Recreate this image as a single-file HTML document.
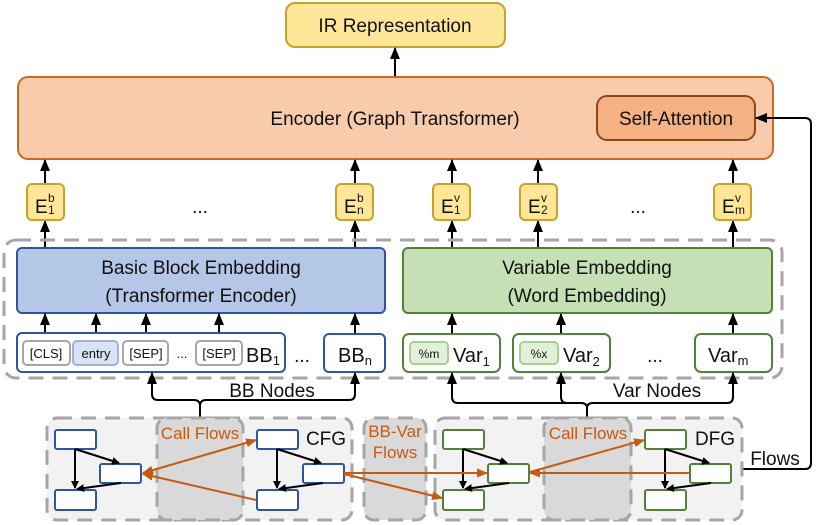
<!DOCTYPE html>
<html><head><meta charset="utf-8"><style>
body{margin:0;background:#fff}
svg{display:block;font-family:"Liberation Sans",sans-serif}
text{fill:#111}
</style></head><body>
<svg width="830" height="525" viewBox="0 0 830 525" xmlns="http://www.w3.org/2000/svg">
<defs>
<marker id="a" markerWidth="8" markerHeight="8" refX="7" refY="4" orient="auto" markerUnits="userSpaceOnUse" viewBox="0 0 8 8"><path d="M0,0 L8,4 L0,8 z" fill="#000"/></marker>
<marker id="ab" markerWidth="12" markerHeight="12" refX="11" refY="6" orient="auto" markerUnits="userSpaceOnUse" viewBox="0 0 12 12"><path d="M0,1 L12,6 L0,11 z" fill="#000"/></marker>
<marker id="o" markerWidth="11" markerHeight="11" refX="10" refY="5.5" orient="auto" markerUnits="userSpaceOnUse" viewBox="0 0 11 11"><path d="M0,1 L11,5.5 L0,10 z" fill="#c55a11"/></marker>
<marker id="os" markerWidth="11" markerHeight="11" refX="1" refY="5.5" orient="auto" markerUnits="userSpaceOnUse" viewBox="0 0 11 11"><path d="M11,1 L0,5.5 L11,10 z" fill="#c55a11"/></marker>
</defs>

<rect x="286" y="3" width="219" height="44" rx="9" fill="#ffe699" stroke="#c9a227" stroke-width="2"/>
<text x="395" y="32" font-size="19" text-anchor="middle">IR Representation</text>
<line x1="395" y1="77" x2="395" y2="48" stroke="#000" stroke-width="2" marker-end="url(#ab)"/>

<rect x="18" y="77" width="755" height="82" rx="10" fill="#f8cbad" stroke="#d0661f" stroke-width="2"/>
<text x="395" y="125" font-size="19" text-anchor="middle">Encoder (Graph Transformer)</text>
<rect x="597" y="96" width="158" height="44" rx="10" fill="#f4b183" stroke="#8c4a16" stroke-width="2"/>
<text x="676" y="125" font-size="19" text-anchor="middle">Self-Attention</text>

<g stroke="#000" stroke-width="2" fill="none">
<line x1="45" y1="184" x2="45" y2="160" marker-end="url(#ab)"/>
<line x1="355" y1="184" x2="355" y2="160" marker-end="url(#ab)"/>
<line x1="452" y1="184" x2="452" y2="160" marker-end="url(#ab)"/>
<line x1="538" y1="184" x2="538" y2="160" marker-end="url(#ab)"/>
<line x1="733" y1="184" x2="733" y2="160" marker-end="url(#ab)"/>
<line x1="45" y1="248" x2="45" y2="221" marker-end="url(#ab)"/>
<line x1="355" y1="248" x2="355" y2="221" marker-end="url(#ab)"/>
<line x1="452" y1="248" x2="452" y2="221" marker-end="url(#ab)"/>
<line x1="538" y1="248" x2="538" y2="221" marker-end="url(#ab)"/>
<line x1="733" y1="248" x2="733" y2="221" marker-end="url(#ab)"/>
</g>
<g fill="#ffe699" stroke="#c9a227" stroke-width="2">
<rect x="27" y="184" width="37" height="36" rx="5"/>
<rect x="336" y="184" width="37" height="36" rx="5"/>
<rect x="433" y="184" width="37" height="36" rx="5"/>
<rect x="520" y="184" width="37" height="36" rx="5"/>
<rect x="714" y="184" width="37" height="36" rx="5"/>
</g>
<g font-size="19">
<text x="35" y="213">E</text><text x="48" y="202" font-size="12">b</text><text x="48" y="214" font-size="12">1</text>
<text x="344" y="213">E</text><text x="357" y="202" font-size="12">b</text><text x="357" y="214" font-size="12">n</text>
<text x="441" y="213">E</text><text x="454" y="202" font-size="12">v</text><text x="454" y="214" font-size="12">1</text>
<text x="528" y="213">E</text><text x="541" y="202" font-size="12">v</text><text x="541" y="214" font-size="12">2</text>
<text x="722" y="213">E</text><text x="735" y="202" font-size="12">v</text><text x="735" y="214" font-size="12">m</text>
<text x="200" y="213" text-anchor="middle">...</text>
<text x="638" y="213" text-anchor="middle">...</text>
</g>

<rect x="4" y="240" width="778" height="138" rx="12" fill="none" stroke="#a6a6a6" stroke-width="3" stroke-dasharray="15,9"/>

<rect x="17" y="248" width="368" height="65" rx="5" fill="#b4c7e7" stroke="#2f55a0" stroke-width="2"/>
<text x="201" y="274" font-size="19" text-anchor="middle">Basic Block Embedding</text>
<text x="201" y="302" font-size="19" text-anchor="middle">(Transformer Encoder)</text>
<rect x="403" y="248" width="369" height="65" rx="5" fill="#c5e0b4" stroke="#548235" stroke-width="2"/>
<text x="587" y="274" font-size="19" text-anchor="middle">Variable Embedding</text>
<text x="587" y="302" font-size="19" text-anchor="middle">(Word Embedding)</text>

<g stroke="#000" stroke-width="2">
<line x1="45" y1="341" x2="45" y2="314" marker-end="url(#ab)"/>
<line x1="96" y1="341" x2="96" y2="314" marker-end="url(#ab)"/>
<line x1="146" y1="341" x2="146" y2="314" marker-end="url(#ab)"/>
<line x1="219" y1="341" x2="219" y2="314" marker-end="url(#ab)"/>
<line x1="355" y1="334" x2="355" y2="314" marker-end="url(#ab)"/>
<line x1="452" y1="334" x2="452" y2="314" marker-end="url(#ab)"/>
<line x1="561" y1="334" x2="561" y2="314" marker-end="url(#ab)"/>
<line x1="733" y1="334" x2="733" y2="314" marker-end="url(#ab)"/>
</g>

<rect x="17" y="333" width="268" height="39" rx="5" fill="#fff" stroke="#2f55a0" stroke-width="2"/>
<g stroke="#a6a6a6" stroke-width="2" fill="#fff">
<rect x="23" y="341" width="47" height="24" rx="4"/>
<rect x="123" y="341" width="45" height="24" rx="4"/>
<rect x="196" y="341" width="46" height="24" rx="4"/>
</g>
<rect x="73" y="341" width="45" height="24" rx="4" fill="#dae3f3" stroke="#9db3e0" stroke-width="2"/>
<g font-size="13" text-anchor="middle">
<text x="46" y="358">[CLS]</text><text x="96" y="358">entry</text><text x="146" y="358">[SEP]</text><text x="219" y="358">[SEP]</text>
<text x="182" y="358">...</text>
</g>
<text x="246" y="362" font-size="20">BB<tspan font-size="13" dy="3">1</tspan></text>
<text x="302" y="362" font-size="19" text-anchor="middle">...</text>
<rect x="324" y="334" width="61" height="38" rx="5" fill="#fff" stroke="#2f55a0" stroke-width="2"/>
<text x="338" y="362" font-size="20">BB<tspan font-size="13" dy="3">n</tspan></text>

<g fill="#fff" stroke="#548235" stroke-width="2">
<rect x="403" y="334" width="97" height="38" rx="6"/>
<rect x="513" y="334" width="97" height="38" rx="6"/>
<rect x="695" y="334" width="77" height="38" rx="6"/>
</g>
<g fill="#e2f0d9" stroke="#a9d18e" stroke-width="2">
<rect x="410" y="342" width="38" height="22" rx="4"/>
<rect x="520" y="342" width="38" height="22" rx="4"/>
</g>
<text x="429" y="358" font-size="12" text-anchor="middle">%m</text>
<text x="539" y="358" font-size="12" text-anchor="middle">%x</text>
<text x="453" y="362" font-size="20">Var<tspan font-size="13" dy="4">1</tspan></text>
<text x="563" y="362" font-size="20">Var<tspan font-size="13" dy="4">2</tspan></text>
<text x="655" y="362" font-size="19" text-anchor="middle">...</text>
<text x="708" y="362" font-size="20">Var<tspan font-size="13" dy="3">m</tspan></text>

<g stroke="#000" stroke-width="2" fill="none">
<path d="M200,418 L200,406 Q200,400 194,400 L158,400 Q152,400 152,394 L152,373" marker-end="url(#ab)"/>
<path d="M200,406 Q200,400 206,400 L349,400 Q355,400 355,394 L355,373" marker-end="url(#ab)"/>
<path d="M587,418 L587,408 Q587,403 581,403 L458,403 Q452,403 452,397 L452,373" marker-end="url(#ab)"/>
<path d="M567,403 Q561,403 561,397 L561,373" marker-end="url(#ab)"/>
<path d="M587,408 Q587,403 593,403 L727,403 Q733,403 733,397 L733,373" marker-end="url(#ab)"/>
<path d="M742,469 L805,469 Q811,469 811,463 L811,124 Q811,118 805,118 L756,118" marker-end="url(#ab)"/>
</g>
<text x="272" y="397" font-size="19" text-anchor="middle">BB Nodes</text>
<text x="657" y="397" font-size="19" text-anchor="middle">Var Nodes</text>
<text x="775" y="465" font-size="19" text-anchor="middle">Flows</text>

<g stroke="#a6a6a6" stroke-width="3" stroke-dasharray="15,9">
<rect x="47" y="418" width="305" height="102" rx="10" fill="#f2f2f2"/>
<rect x="435" y="418" width="307" height="102" rx="10" fill="#f2f2f2"/>
<rect x="157" y="418" width="86" height="102" rx="10" fill="#d9d9d9"/>
<rect x="364" y="418" width="62" height="102" rx="10" fill="#d9d9d9"/>
<rect x="544" y="418" width="87" height="102" rx="10" fill="#d9d9d9"/>
</g>
<g font-size="17" text-anchor="middle">
<text x="200" y="439" style="fill:#c55a11">Call Flows</text>
<text x="395" y="437" style="fill:#c55a11">BB-Var</text>
<text x="395" y="458" style="fill:#c55a11">Flows</text>
<text x="588" y="439" style="fill:#c55a11">Call Flows</text>
</g>
<text x="326" y="445" font-size="19" text-anchor="middle">CFG</text>
<text x="715" y="445" font-size="19" text-anchor="middle">DFG</text>

<g fill="#fff" stroke-width="2">
<g stroke="#2f55a0">
<rect x="55" y="430" width="41" height="19" rx="2"/><rect x="100" y="464" width="41" height="19" rx="2"/><rect x="55" y="490" width="41" height="20" rx="2"/>
<rect x="257" y="430" width="41" height="19" rx="2"/><rect x="303" y="464" width="41" height="19" rx="2"/><rect x="257" y="490" width="41" height="20" rx="2"/>
</g>
<g stroke="#548235">
<rect x="443" y="430" width="41" height="19" rx="2"/><rect x="488" y="464" width="41" height="19" rx="2"/><rect x="443" y="490" width="41" height="20" rx="2"/>
<rect x="645" y="430" width="41" height="19" rx="2"/><rect x="690" y="464" width="41" height="19" rx="2"/><rect x="645" y="490" width="41" height="20" rx="2"/>
</g>
</g>
<g stroke="#000" stroke-width="2" fill="none">
<path d="M75,449 L75,488" marker-end="url(#a)"/><path d="M75,449 L119,463" marker-end="url(#a)"/><path d="M121,483 L77,489" marker-end="url(#a)"/>
<path d="M277,449 L277,488" marker-end="url(#a)"/><path d="M277,449 L321,463" marker-end="url(#a)"/><path d="M323,483 L279,489" marker-end="url(#a)"/>
<path d="M463,449 L463,488" marker-end="url(#a)"/><path d="M463,449 L507,463" marker-end="url(#a)"/><path d="M509,483 L465,489" marker-end="url(#a)"/>
<path d="M665,449 L665,488" marker-end="url(#a)"/><path d="M665,449 L709,463" marker-end="url(#a)"/><path d="M711,483 L667,489" marker-end="url(#a)"/>
</g>
<g stroke="#c55a11" stroke-width="2" fill="none">
<path d="M143,473 L256,440" marker-start="url(#os)" marker-end="url(#o)"/>
<path d="M256,500 L143,474" marker-end="url(#o)"/>
<path d="M344,473 L487,473" marker-end="url(#o)"/>
<path d="M344,474 L442,498" marker-end="url(#o)"/>
<path d="M690,473 L530,473" marker-end="url(#o)"/>
<path d="M530,472 L644,440" marker-end="url(#o)"/>
</g>
</svg>
</body></html>
